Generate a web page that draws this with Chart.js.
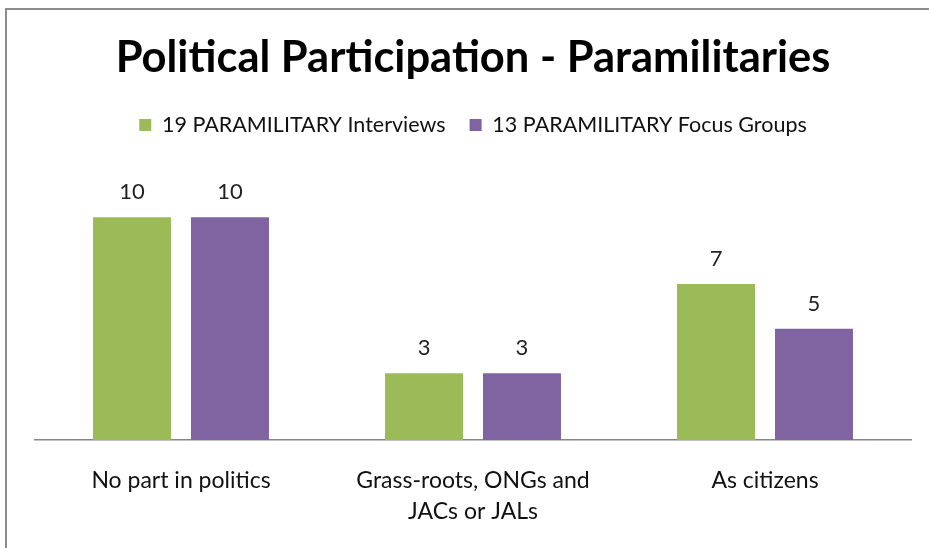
<!DOCTYPE html>
<html>
<head>
<meta charset="utf-8">
<script src="https://cdn.jsdelivr.net/npm/chart.js@4.4.1/dist/chart.umd.min.js"></script>
<style>
    html, body { margin: 0; padding: 0; background: #fff; overflow: hidden; }
    #wrap { position: relative; width: 929px; height: 548px; overflow: hidden; }
    #frame { position: absolute; left: 5px; top: 8px; width: 940px; height: 560px; border-left: 2px solid #8c8c8c; border-top: 2px solid #8c8c8c; }
    canvas { position: absolute; left: 0; top: 0; }
</style>
</head>
<body>
<div id="wrap">
    <div id="frame"></div>
    <canvas id="chart" width="929" height="548"></canvas>
</div>
<script>
// data
const categories = ['No part in politics', ['Grass-roots, ONGs and', 'JACs or JALs'], 'As citizens'];
const seriesNames = ['19 PARAMILITARY Interviews', '13 PARAMILITARY Focus Groups'];
const interviews = [10, 3, 7];
const focusGroups = [10, 3, 5];
const seriesColors = ['#9bbb59', '#8064a2'];

const fontFamily = 'Lato, "Open Sans", sans-serif';

// value labels above each bar
const barLabels = {
    id: 'barLabels',
    afterDatasetsDraw(chart) {
        const ctx = chart.ctx;
        ctx.save();
        ctx.font = '22px ' + fontFamily;
        ctx.fillStyle = '#222';
        ctx.textAlign = 'center';
        ctx.textBaseline = 'middle';
        chart.data.datasets.forEach((ds, i) => {
            chart.getDatasetMeta(i).data.forEach((bar, j) => {
                ctx.fillText(ds.data[j], bar.x, bar.y - 25);
            });
        });
        ctx.restore();
    }
};

// extra room under the legend, before the plot starts
const legendGap = {
    id: 'legendGap',
    afterInit(chart) {
        const legend = chart.legend;
        const fit = legend.fit;
        legend.fit = function () {
            fit.call(this);
            this.height += 27;
        };
    }
};

new Chart(document.getElementById('chart'), {
    type: 'bar',
    data: {
        labels: categories,
        datasets: [
            { label: seriesNames[0], data: interviews, backgroundColor: seriesColors[0] },
            { label: seriesNames[1], data: focusGroups, backgroundColor: seriesColors[1] }
        ]
    },
    options: {
        responsive: false,
        animation: false,
        categoryPercentage: 0.671,
        barPercentage: 0.796,
        layout: { padding: { left: 35, right: 18, top: 0, bottom: 0 } },
        plugins: {
            title: {
                display: true,
                text: 'Political Participation - Paramilitaries',
                color: '#000',
                font: { family: fontFamily, size: 43.5, weight: 'bold' },
                padding: { top: 32, bottom: 6 }
            },
            legend: {
                position: 'top',
                labels: {
                    color: '#111',
                    font: { family: fontFamily, size: 21.5 },
                    boxWidth: 12,
                    boxHeight: 12,
                    padding: 24
                }
            },
            tooltip: { enabled: false }
        },
        scales: {
            x: {
                grid: { display: false, drawTicks: false },
                border: { display: true, color: '#868686', width: 1.5 },
                ticks: {
                    color: '#111',
                    font: { family: fontFamily, size: 23, lineHeight: 1.35 },
                    padding: 25,
                    maxRotation: 0
                },
                afterFit(scale) { scale.height = 108; }
            },
            y: {
                display: false,
                min: 0,
                max: 12
            }
        }
    },
    plugins: [barLabels, legendGap]
});
</script>
</body>
</html>
